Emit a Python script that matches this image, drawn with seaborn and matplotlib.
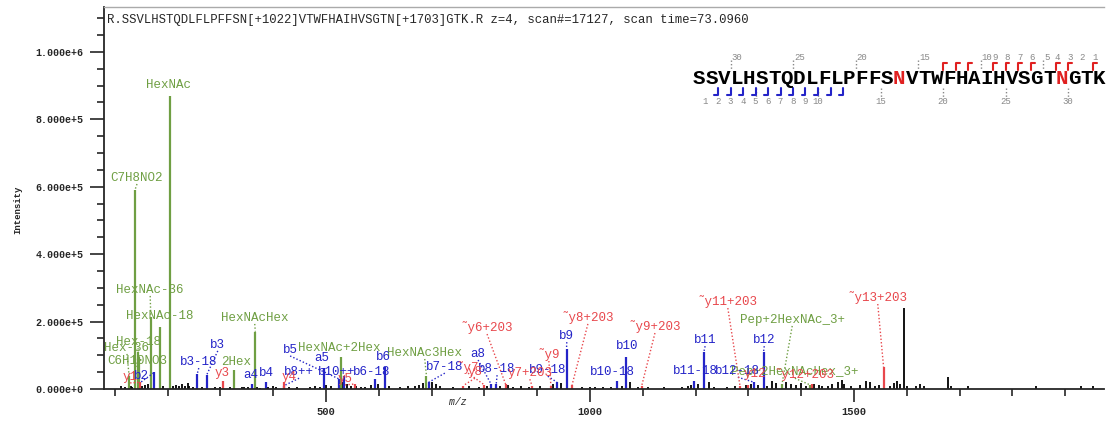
import matplotlib
matplotlib.use("Agg")
import matplotlib.pyplot as plt
from matplotlib.lines import Line2D
from matplotlib.ticker import MultipleLocator, FuncFormatter
import pandas as pd
import seaborn as sns

# ---- data -------------------------------------------------------------
title = ("R.SSVLHSTQDLFLPFFSN[+1022]VTWFHAIHVSGTN[+1703]GTK.R z=4, "
         "scan#=17127, scan time=73.0960")
sequence = "SSVLHSTQDLFLPFFSNVTWFHAIHVSGTNGTK"
glyco_sites = [17, 30]
b_found = [2, 3, 4, 5, 6, 7, 8, 9, 10, 11, 12]
y_found = [1, 3, 4, 6, 7, 8, 9, 11, 12, 13]

# matched fragment ions
ion_text = ["Hex-36", "C7H8NO2", "C6H10NO3", "Hex-18", "HexNAc-36", "HexNAc-18",
            "HexNAc", "2Hex", "HexNAcHex", "HexNAc+2Hex", "HexNAc3Hex",
            "Pep+2HexNAc_3+", "Pep+2HexNAcHex_3+",
            "b2", "b3-18", "b3", "a4", "b4", "b8++", "a5", "b5", "b10++", "b6-18",
            "b6", "b7-18", "a8", "b8-18", "b9-18", "b9", "b10-18", "b10",
            "b11-18", "b11", "b12-18", "b12",
            "y1", "y3", "y4", "y5", "y8", "˜y7", "˜y6+203", "y7+203", "˜y9",
            "˜y8+203", "˜y9+203", "˜y11+203", "y12", "˜y12+203", "˜y13+203"]
ion_kind = ["g"] * 13 + ["b"] * 22 + ["y"] * 15
ion_mz = [127.0, 138.1, 144.1, 145.1, 168.1, 186.1, 204.1, 325.1, 366.1, 528.2,
          690.2, 1363.7, 1417.0,
          175.1, 256.1, 274.1, 359.2, 387.2, 420.7, 496.3, 524.3, 534.8, 593.3,
          611.3, 694.4, 812.4, 822.4, 937.4, 955.5, 1050.5, 1068.5,
          1197.6, 1215.6, 1310.7, 1328.7,
          147.1, 305.2, 420.2, 555.3, 760.0, 800.0, 840.0, 890.0, 926.0,
          966.0, 1098.0, 1284.0, 1300.0, 1420.0, 1556.0]
ion_int = [40e3, 590e3, 110e3, 95e3, 215e3, 185e3, 870e3, 55e3, 170e3, 95e3,
           40e3, 15e3, 12e3,
           50e3, 45e3, 42e3, 15e3, 20e3, 10e3, 62e3, 30e3, 40e3, 30e3,
           66e3, 20e3, 15e3, 15e3, 20e3, 119e3, 25e3, 95e3,
           25e3, 110e3, 20e3, 110e3,
           20e3, 25e3, 20e3, 15e3, 10e3, 12e3, 15e3, 10e3, 10e3,
           12e3, 10e3, 10e3, 12e3, 14e3, 66e3]

# label anchor (m/z, intensity) for each ion label
label_mz = [123, 142, 142, 144, 167, 186, 201, 329, 365, 526, 687, 1383, 1388,
            150, 259, 295, 358, 388, 449, 492, 432, 521, 587,
            608, 725, 788, 824, 920, 956, 1042, 1070,
            1199, 1218, 1280, 1330,
            129, 303, 430, 536, 782, 769, 805, 886, 922,
            996, 1123, 1261, 1313, 1407, 1545]
label_int = [122e3, 626e3, 83e3, 139e3, 294e3, 217e3, 902e3, 80e3, 211e3, 122e3,
             107e3, 205e3, 50e3,
             39e3, 80e3, 131e3, 42e3, 47e3, 50e3, 92e3, 116e3, 50e3, 50e3,
             95e3, 65e3, 104e3, 59e3, 56e3, 157e3, 50e3, 128e3,
             53e3, 145e3, 53e3, 145e3,
             36e3, 47e3, 36e3, 30e3, 50e3, 65e3, 181e3, 47e3, 101e3,
             211e3, 184e3, 258e3, 45e3, 42e3, 270e3]

# unassigned peaks
noise_mz = [112, 120, 130, 133, 152, 158, 163, 192, 210, 215, 222, 228, 232, 238,
            240, 248, 265, 290, 300, 318, 340, 345, 352, 370, 375, 390, 400, 405,
            430, 445, 470, 480, 488, 500, 510, 530, 540, 548, 556, 566, 574, 585,
            598, 620, 640, 655, 668, 676, 684, 700, 708, 716, 740, 770, 790, 805,
            830, 845, 855, 870, 885, 905, 930, 945, 965, 985, 1000, 1010, 1025,
            1040, 1060, 1075, 1090, 1110, 1140, 1175, 1185, 1192, 1205, 1225,
            1235, 1260, 1275, 1295, 1305, 1318, 1336, 1345, 1352, 1372, 1380,
            1390, 1400, 1410, 1425, 1433, 1440, 1450, 1458, 1470, 1477, 1482,
            1495, 1512, 1522, 1530, 1540, 1548, 1568, 1576, 1582, 1588, 1594,
            1600, 1618, 1625, 1632, 1678, 1684, 1716, 1845, 1930, 1952]
noise_int = [8e3, 6e3, 10e3, 7e3, 8e3, 12e3, 15e3, 10e3, 8e3, 12e3, 9e3, 14e3,
             10e3, 18e3, 8e3, 6e3, 5e3, 6e3, 5e3, 6e3, 5e3, 7e3, 6e3, 5e3, 4e3,
             6e3, 8e3, 5e3, 6e3, 5e3, 6e3, 9e3, 5e3, 12e3, 10e3, 20e3, 15e3,
             10e3, 8e3, 6e3, 5e3, 12e3, 14e3, 8e3, 6e3, 8e3, 10e3, 12e3, 18e3,
             22e3, 15e3, 10e3, 6e3, 8e3, 6e3, 8e3, 10e3, 12e3, 7e3, 9e3, 6e3,
             8e3, 14e3, 18e3, 5e3, 6e3, 5e3, 6e3, 5e3, 7e3, 10e3, 22e3, 6e3,
             5e3, 6e3, 7e3, 10e3, 12e3, 14e3, 20e3, 6e3, 5e3, 8e3, 12e3, 15e3,
             12e3, 8e3, 25e3, 18e3, 22e3, 14e3, 12e3, 18e3, 10e3, 15e3, 12e3,
             8e3, 10e3, 14e3, 20e3, 28e3, 15e3, 10e3, 12e3, 25e3, 22e3, 10e3,
             12e3, 10e3, 18e3, 25e3, 15e3, 239e3, 10e3, 8e3, 15e3, 10e3, 36e3,
             10e3, 8e3, 8e3, 9e3, 10e3]

# ---- style -------------------------------------------------------------
sns.set_theme(style="ticks")
MONO = ["Liberation Mono", "DejaVu Sans Mono"]
colors = {"g": "#6f9f43", "b": "#2424c8", "y": "#e8474c"}

ions = pd.DataFrame({"text": ion_text, "kind": ion_kind, "mz": ion_mz,
                     "int": ion_int, "lx": label_mz, "ly": label_int})

W, H = 1106, 423
fig = plt.figure(figsize=(W / 100, H / 100), dpi=100)
ax = fig.add_axes([104 / W, (H - 389) / H, 1000 / W, 382 / H])


def fxy(px, py):
    return px / W, 1 - py / H


ax.vlines(noise_mz, 0, noise_int, color="black", lw=1.3)
for kind, grp in ions.groupby("kind"):
    ax.vlines(grp["mz"], 0, grp["int"], color=colors[kind], lw=1.6)

for _, r in ions.iterrows():
    c = colors[r["kind"]]
    ax.text(r["lx"], r["ly"], r["text"], color=c, fontsize=9, family=MONO,
            ha="center", va="center", zorder=5)
    top = r["ly"] - 18e3
    if abs(top - r["int"]) > 15e3 or abs(r["lx"] - r["mz"]) > 15:
        ax.plot([r["lx"], r["mz"]], [top, r["int"]], ls=(0, (1, 1.5)),
                color=c, lw=1, zorder=4)

ax.set_xlim(79.5, 1973.5)
ax.set_ylim(0, 1.133e6)
ax.xaxis.set_major_locator(MultipleLocator(500))
ax.xaxis.set_minor_locator(MultipleLocator(100))
ax.yaxis.set_major_locator(MultipleLocator(2e5))
ax.yaxis.set_minor_locator(MultipleLocator(5e4))


def sci(v, pos):
    m, e = f"{v:.3e}".split("e")
    return f"{m}e{e[0]}{int(e[1:])}"


ax.yaxis.set_major_formatter(FuncFormatter(sci))
ax.tick_params(axis="y", which="major", length=10, width=1.2, pad=5, labelsize=7.2)
ax.tick_params(axis="y", which="minor", length=5, width=1.2)
ax.tick_params(axis="x", which="major", length=9, width=1.2, pad=4, labelsize=7.5)
ax.tick_params(axis="x", which="minor", length=5, width=1.2)
for lab in ax.get_yticklabels() + ax.get_xticklabels():
    lab.set_family(MONO)
    lab.set_fontweight("bold")
ax.spines["right"].set_visible(False)
ax.spines["top"].set_color("#aaaaaa")
ax.spines["top"].set_linewidth(1)
ax.spines["left"].set_linewidth(1.3)
ax.spines["bottom"].set_linewidth(1.3)
ax.grid(False)

fig.text(*fxy(107, 20), title, fontsize=8.8, family=MONO, ha="left", va="center")
fig.text(*fxy(18, 210), "Intensity", rotation=90, fontsize=6.5, family=MONO,
         fontweight="bold", ha="center", va="center")
fig.text(*fxy(458, 402), "m/z", fontsize=7, family=MONO, style="italic",
         ha="center", va="center")

# ---- sequence coverage map ---------------------------------------------
x0, step, yseq = 693, 12.5, 78
for i, aa in enumerate(sequence, start=1):
    col = "#e02020" if i in glyco_sites else "black"
    fig.text(*fxy(x0 + (i - 0.5) * step, yseq), aa, fontsize=15, family=MONO,
             fontweight="bold", color=col, ha="center", va="center")

n_res = len(sequence)
gray = "#888888"
for n in list(range(1, 11)) + [15, 20, 25, 30]:
    # y-ion numbering on top
    bx = x0 + (n_res - n) * step
    if n % 5 == 0:
        fig.text(*fxy(bx + 1, 57), str(n), fontsize=6.5, family=MONO, color=gray,
                 ha="left", va="center")
        fig.add_artist(Line2D(*zip(fxy(bx, 60), fxy(bx, 69)), ls=(0, (1, 1.5)),
                              color=gray, lw=1))
    else:
        fig.text(*fxy(bx + 2, 57), str(n), fontsize=6.5, family=MONO, color=gray,
                 ha="center", va="center")
    # b-ion numbering below
    bx = x0 + n * step
    fig.text(*fxy(bx, 101), str(n), fontsize=6.5, family=MONO, color=gray,
             ha="center", va="center")
    if n % 5 == 0:
        fig.add_artist(Line2D(*zip(fxy(bx, 88), fxy(bx, 97)), ls=(0, (1, 1.5)),
                              color=gray, lw=1))

for n in y_found:
    bx = x0 + (n_res - n) * step
    xs, ys = zip(fxy(bx, 70), fxy(bx, 63), fxy(bx + 4, 63))
    fig.add_artist(Line2D(xs, ys, color="#e02020", lw=1.5))
for n in b_found:
    bx = x0 + n * step
    xs, ys = zip(fxy(bx, 88), fxy(bx, 95), fxy(bx - 4, 95))
    fig.add_artist(Line2D(xs, ys, color="#2424c8", lw=1.5))

fig.savefig("out.png", dpi=100)
